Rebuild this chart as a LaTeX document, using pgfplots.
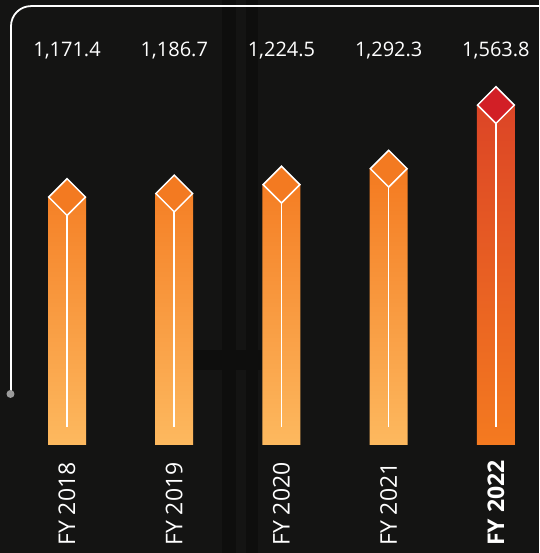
\documentclass[border=0pt]{standalone}
\usepackage{pgfplots}
\pgfplotsset{compat=1.18}
\usepackage{pgfplotstable}
\usepackage{fontspec}
\setmainfont{Open Sans}
\definecolor{bg}{HTML}{141413}
\definecolor{bgdark}{HTML}{0E0E0D}
\definecolor{ortop}{HTML}{F47A20}
\definecolor{orbot}{HTML}{FDB95F}
\definecolor{redtop}{HTML}{DC4526}
\definecolor{redbot}{HTML}{F47A20}
\definecolor{dorange}{HTML}{F37A21}
\definecolor{dred}{HTML}{D21F26}
\definecolor{dotgray}{HTML}{9B9B9B}
\pgfplotstableread{
x val
0 1171.4
1 1186.7
2 1224.5
3 1292.3
}\dataA
\pgfplotstableread{
x val
4 1563.8
}\dataB
\pgfplotstableread{
x val
0 1171.4
1 1186.7
2 1224.5
3 1292.3
4 1563.8
}\dataAll
\begin{document}
\begin{tikzpicture}
\fill[bg] (0,0) rectangle (539pt,553pt);
\fill[bgdark] (222pt,0) rectangle (236pt,553pt);
\fill[bgdark] (246pt,0) rectangle (258pt,553pt);
\fill[bgdark] (193pt,183pt) rectangle (262pt,203pt);
\begin{axis}[
  at={(0,0)}, anchor=south west,
  scale only axis, width=539pt, height=553pt,
  xmin=-0.625, xmax=4.40, ymin=-460.6, ymax=1897.7,
  axis line style={draw=none}, major tick length=0pt,
  ytick=\empty, xtick={0,1,2,3,4},
  xticklabels={FY 2018, FY 2019, FY 2020, FY 2021, \textbf{FY 2022}},
  xticklabel style={rotate=90, anchor=west, inner sep=0pt, font=\fontsize{23}{24}\selectfont, text=white},
  xticklabel shift=-7pt,
  clip=false,
  /pgf/number format/assume math mode=true,
]
\addplot[ybar, bar width=38pt, bar shift=0pt, draw=none, top color=ortop, bottom color=orbot]
  table[x=x, y expr=\thisrow{val}-114] {\dataA};
\addplot[ybar, bar width=38pt, bar shift=0pt, draw=none, top color=redtop, bottom color=redbot]
  table[x=x, y expr=\thisrow{val}-114] {\dataB};
\addplot[only marks, mark=none,
  error bars/.cd, y dir=minus, y explicit, error mark=none,
  error bar style={draw=white, line width=1.6pt}]
  table[x=x, y expr=\thisrow{val}-114, y error minus expr=\thisrow{val}-190.8] {\dataAll};
\addplot[only marks, mark=square*, mark size=13pt,
  mark options={rotate=45, fill=dorange, draw=white, line width=1.5pt}]
  table[x=x, y expr=\thisrow{val}-114] {\dataA};
\addplot[only marks, mark=square*, mark size=13pt,
  mark options={rotate=45, fill=dred, draw=white, line width=1.5pt}]
  table[x=x, y expr=\thisrow{val}-114] {\dataB};
\addplot[only marks, mark=none, point meta=explicit, nodes near coords,
  nodes near coords style={anchor=base, text=white, inner sep=0pt,
    font=\fontsize{20}{21}\selectfont,
    /pgf/number format/.cd, fixed, fixed zerofill, precision=1, 1000 sep={,}}]
  table[x=x, y expr=1659, meta=val] {\dataAll};
\end{axis}
\draw[white, line width=1.8pt, rounded corners=20pt] (11pt,159pt) -- (11pt,547pt) -- (539pt,547pt);
\fill[dotgray] (10.5pt,159pt) circle (4pt);
\end{tikzpicture}
\end{document}
